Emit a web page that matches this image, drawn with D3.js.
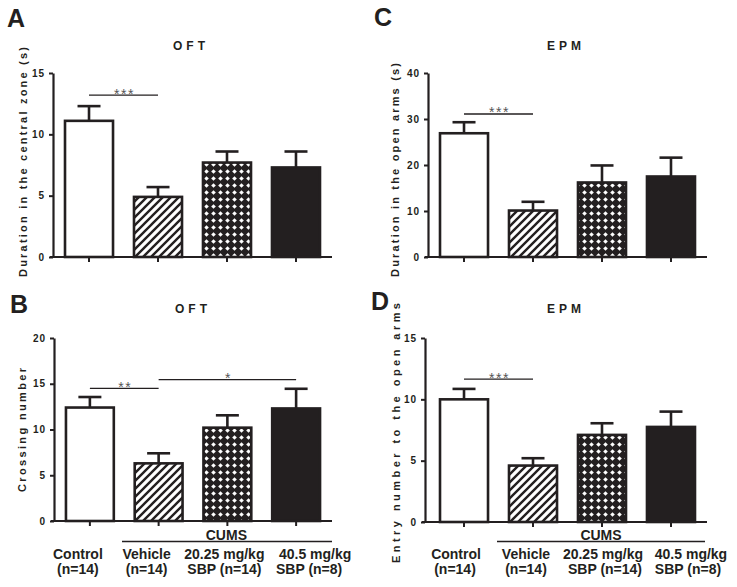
<!DOCTYPE html>
<html>
<head>
<meta charset="utf-8">
<script src="https://cdn.jsdelivr.net/npm/d3@7"></script>
<style>
  html, body { margin: 0; padding: 0; background: #fff; }
  svg { display: block; }
  text { font-family: Arial, "Liberation Sans", sans-serif; }
</style>
</head>
<body>
<svg id="chart" width="737" height="587"></svg>
<script>
// ---------------- DATA ----------------
const categories = ["Control", "Vehicle", "SBP 20.25", "SBP 40.5"];
const labelLine1 = ["Control", "Vehicle", "20.25 mg/kg", "40.5 mg/kg"];
const labelLine2 = ["(n=14)", "(n=14)", "SBP (n=14)", "SBP (n=8)"];
const groupLabel = "CUMS";

const durationCentralMean = [11.1, 4.9, 7.7, 7.3];
const durationCentralErr  = [1.2, 0.8, 0.9, 1.3];
const crossingMean        = [12.4, 6.3, 10.2, 12.3];
const crossingErr         = [1.15, 1.1, 1.35, 2.15];
const durationOpenMean    = [26.9, 10.1, 16.2, 17.5];
const durationOpenErr     = [2.4, 1.9, 3.7, 4.1];
const entryMean           = [10.0, 4.6, 7.1, 7.75];
const entryErr            = [0.85, 0.6, 0.95, 1.25];

const ticksA = [0, 5, 10, 15];
const ticksB = [0, 5, 10, 15, 20];
const ticksC = [0, 10, 20, 30, 40];
const ticksD = [0, 5, 10, 15];

const sigA = [{ from: 0, to: 1, value: 13.2, text: "***" }];
const sigB = [{ from: 0, to: 1, value: 14.5, text: "**" }, { from: 1, to: 3, value: 15.45, text: "*" }];
const sigC = [{ from: 0, to: 1, value: 31.1, text: "***" }];
const sigD = [{ from: 0, to: 1, value: 11.65, text: "***" }];

// ---------------- LAYOUT ----------------
const INK = "#231f20";
const svg = d3.select("#chart");
const defs = svg.append("defs");

// diagonal hatch
const hatch = defs.append("pattern").attr("id", "hatch").attr("patternUnits", "userSpaceOnUse")
  .attr("width", 8).attr("height", 8);
hatch.append("rect").attr("width", 8).attr("height", 8).attr("fill", "#fff");
hatch.append("path").attr("d", "M-2,2 L2,-2 M0,8 L8,0 M6,10 L10,6")
  .attr("stroke", INK).attr("stroke-width", 2.4);

// cross-hatch (black with white diamonds)
const cross = defs.append("pattern").attr("id", "cross").attr("patternUnits", "userSpaceOnUse")
  .attr("width", 7).attr("height", 7);
cross.append("rect").attr("width", 7).attr("height", 7).attr("fill", INK);
cross.append("path").attr("d", "M3.5,1.2 L5.8,3.5 L3.5,5.8 L1.2,3.5 Z").attr("fill", "#fff");

const fills = ["#fff", "url(#hatch)", "url(#cross)", INK];

const panels = [
  { letter: "A", letterX: 7, letterY: 27, title: "OFT", titleX: 191, titleY: 50,
    mean: durationCentralMean, err: durationCentralErr, ticks: ticksA, domain: [0, 15],
    axisX: 53, bandX0: 53, x1: 332, yTop: 73, yBottom: 257,
    ylabel: "Duration in the central zone (s)", ylabelX: 27, ylabelC: 162, ylabelLen: 230,
    sig: sigA, showLabels: false },
  { letter: "C", letterX: 374, letterY: 26, title: "EPM", titleX: 566, titleY: 50,
    mean: durationOpenMean, err: durationOpenErr, ticks: ticksC, domain: [0, 40],
    axisX: 428, bandX0: 428, x1: 707, yTop: 73, yBottom: 257,
    ylabel: "Duration in the open arms (s)", ylabelX: 399, ylabelC: 170, ylabelLen: 214,
    sig: sigC, showLabels: false },
  { letter: "B", letterX: 10, letterY: 313, title: "OFT", titleX: 193, titleY: 313,
    mean: crossingMean, err: crossingErr, ticks: ticksB, domain: [0, 20],
    axisX: 54, bandX0: 54, x1: 332, yTop: 338, yBottom: 521,
    ylabel: "Crossing number", ylabelX: 26, ylabelC: 430, ylabelLen: 124,
    sig: sigB, showLabels: true, labelDx: [-12, -12, -3, 19], labelDx2: [-12, -12, -3, 13],
    cumsX0: 122, cumsX1: 332 },
  { letter: "D", letterX: 371, letterY: 310, title: "EPM", titleX: 566, titleY: 313,
    mean: entryMean, err: entryErr, ticks: ticksD, domain: [0, 15],
    axisX: 425, bandX0: 428, x1: 707, yTop: 338, yBottom: 522,
    ylabel: "Entry number to the open arms", ylabelX: 400, ylabelC: 433, ylabelLen: 260,
    sig: sigD, showLabels: true, labelDx: [-8, -7, 1, 20], labelDx2: [-9, -7, 3, 17],
    cumsX0: 497, cumsX1: 705 }
];

panels.forEach(p => {
  const g = svg.append("g");

  const x = d3.scaleBand().domain(categories).range([p.bandX0, p.x1])
    .paddingInner(0.304).paddingOuter(0.174);
  const y = d3.scaleLinear().domain(p.domain).range([p.yBottom, p.yTop]);
  const bw = x.bandwidth();
  const cx = i => x(categories[i]) + bw / 2;

  // panel letter
  g.append("text").attr("x", p.letterX).attr("y", p.letterY).text(p.letter)
    .attr("font-size", 25).attr("font-weight", "bold").attr("fill", INK);

  // title
  g.append("text").attr("x", p.titleX).attr("y", p.titleY).text(p.title)
    .attr("text-anchor", "middle").attr("font-size", 12).attr("font-weight", "bold")
    .attr("letter-spacing", 4).attr("fill", INK);

  // y label
  g.append("text")
    .attr("transform", `translate(${p.ylabelX},${p.ylabelC}) rotate(-90)`)
    .attr("text-anchor", "middle").attr("font-size", 11).attr("font-weight", "bold")
    .attr("textLength", p.ylabelLen).attr("lengthAdjust", "spacing")
    .attr("fill", INK).text(p.ylabel);

  // bars
  g.selectAll("rect.bar").data(p.mean).join("rect").attr("class", "bar")
    .attr("x", (d, i) => x(categories[i]))
    .attr("y", d => y(d))
    .attr("width", bw)
    .attr("height", d => y(0) - y(d))
    .attr("fill", (d, i) => fills[i])
    .attr("stroke", INK).attr("stroke-width", 2.6);

  // error bars
  const capW = 23;
  p.mean.forEach((m, i) => {
    const top = y(m + p.err[i]);
    g.append("line").attr("x1", cx(i)).attr("x2", cx(i)).attr("y1", y(m)).attr("y2", top)
      .attr("stroke", INK).attr("stroke-width", 2.6);
    g.append("line").attr("x1", cx(i) - capW / 2).attr("x2", cx(i) + capW / 2)
      .attr("y1", top).attr("y2", top).attr("stroke", INK).attr("stroke-width", 2.6);
  });

  // y axis
  const yAxis = g.append("g").attr("transform", `translate(${p.axisX},0)`)
    .call(d3.axisLeft(y).tickValues(p.ticks).tickSize(4).tickSizeOuter(0).tickPadding(4));
  yAxis.select(".domain").attr("stroke", INK).attr("stroke-width", 2.2);
  yAxis.selectAll(".tick line").attr("stroke", INK).attr("stroke-width", 2);
  yAxis.selectAll(".tick text").attr("font-size", 10).attr("font-weight", "bold")
    .attr("letter-spacing", 1).attr("fill", INK).attr("font-family", "Arial, 'Liberation Sans', sans-serif");

  // x axis
  const xAxis = g.append("g").attr("transform", `translate(0,${y(0)})`)
    .call(d3.axisBottom(x).tickSize(5).tickSizeOuter(0).tickFormat(""));
  xAxis.select(".domain").attr("stroke", INK).attr("stroke-width", 2.2)
    .attr("d", `M${p.axisX - 3},0H${p.x1}`);
  xAxis.selectAll(".tick line").attr("stroke", INK).attr("stroke-width", 2);

  // significance
  p.sig.forEach(s => {
    const yy = y(s.value);
    g.append("line").attr("x1", cx(s.from)).attr("x2", cx(s.to)).attr("y1", yy).attr("y2", yy)
      .attr("stroke", INK).attr("stroke-width", 1.4);
    g.append("text").attr("x", (cx(s.from) + cx(s.to)) / 2 + 1).attr("y", yy + 3.5)
      .attr("text-anchor", "middle").attr("font-size", 14).attr("letter-spacing", 1.5)
      .attr("fill", "#555").text(s.text);
  });

  // category labels
  if (p.showLabels) {
    g.append("line").attr("x1", p.cumsX0).attr("x2", p.cumsX1)
      .attr("y1", 541.5).attr("y2", 541.5).attr("stroke", INK).attr("stroke-width", 1.4);
    g.append("text").attr("x", (cx(1) + cx(3)) / 2 - 1).attr("y", 540)
      .attr("text-anchor", "middle").attr("font-size", 14).attr("font-weight", "bold")
      .attr("fill", INK).text(groupLabel);
    labelLine1.forEach((t, i) => {
      g.append("text").attr("x", cx(i) + p.labelDx[i]).attr("y", 558.5)
        .attr("text-anchor", "middle").attr("font-size", 14).attr("font-weight", "bold")
        .attr("fill", INK).text(t);
      g.append("text").attr("x", cx(i) + p.labelDx2[i]).attr("y", 574)
        .attr("text-anchor", "middle").attr("font-size", 14).attr("font-weight", "bold")
        .attr("fill", INK).text(labelLine2[i]);
    });
  }
});
</script>
</body>
</html>
